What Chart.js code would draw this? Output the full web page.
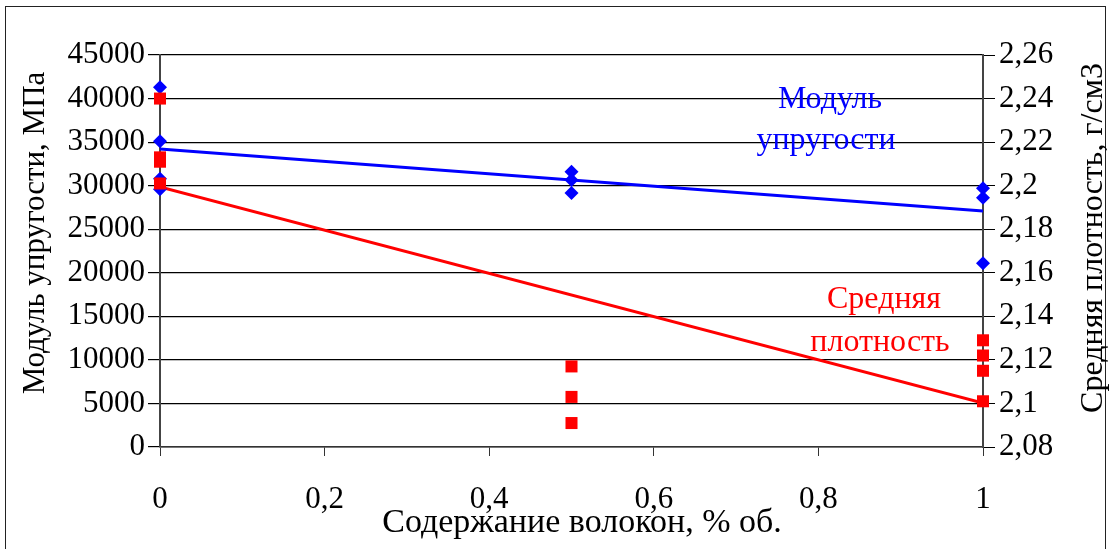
<!DOCTYPE html>
<html>
<head>
<meta charset="utf-8">
<script src="https://cdn.jsdelivr.net/npm/chart.js@4.4.1/dist/chart.umd.min.js"></script>
<style>
    html, body { margin: 0; padding: 0; background: #fff; }
    #wrap { position: relative; width: 1113px; height: 549px; }
    #frame {
        position: absolute; left: 5px; top: 6px; width: 1101px; height: 560px;
        border: 1.5px solid #222; box-sizing: border-box;
    }
    canvas { position: absolute; left: 0; top: 0; }
</style>
</head>
<body>
<div id="wrap">
    <div id="frame"></div>
    <canvas id="myChart" width="1113" height="549"></canvas>
</div>
<script>
// fibre content, % vol.
const modulusX = [0, 0, 0, 0, 0.5, 0.5, 0.5, 1, 1, 1];
// modulus of elasticity, MPa
const modulusY = [41300, 35100, 30800, 29600, 31600, 30650, 29150, 29700, 28600, 21100];
// average density, g/cm3
const densityX = [0, 0, 0, 0, 0.5, 0.5, 0.5, 1, 1, 1, 1];
const densityY = [2.240, 2.213, 2.211, 2.201, 2.117, 2.103, 2.091, 2.129, 2.122, 2.115, 2.101];
// trend lines (endpoints)
const trendX = [0, 1];
const modulusTrend = [34200, 27100];
const densityTrend = [2.1994, 2.1002];

const leftTicks = [0, 5000, 10000, 15000, 20000, 25000, 30000, 35000, 40000, 45000];
const rightTicks = [2.08, 2.1, 2.12, 2.14, 2.16, 2.18, 2.2, 2.22, 2.24, 2.26];
const xTicks = [0, 0.2, 0.4, 0.6, 0.8, 1];

const serif = '"Liberation Serif", "Times New Roman", serif';
const comma = v => String(parseFloat(Number(v).toFixed(2))).replace('.', ',');
const pts = (xs, ys) => xs.map((x, i) => ({ x: x, y: ys[i] }));

// axis titles and series labels, placed like in the original sheet
const labelsPlugin = {
    id: 'labels',
    afterDraw(chart) {
        const ctx = chart.ctx;
        ctx.save();
        ctx.textAlign = 'center';
        ctx.textBaseline = 'middle';
        ctx.font = '32px ' + serif;
        ctx.fillStyle = '#0000FF';
        ctx.fillText('Модуль', 830, 100);
        ctx.fillText('упругости', 826, 141);
        ctx.fillStyle = '#FF0000';
        ctx.fillText('Средняя', 884, 300);
        ctx.fillText('плотность', 880, 343);

        ctx.fillStyle = '#000';
        ctx.font = '34px ' + serif;
        ctx.fillText('Содержание волокон, % об.', 582, 523);

        ctx.font = '31px ' + serif;
        ctx.translate(36, 233);
        ctx.rotate(-Math.PI / 2);
        ctx.fillText('Модуль упругости, МПа', 0, 0);
        ctx.setTransform(1, 0, 0, 1, 0, 0);

        ctx.font = '32px ' + serif;
        ctx.translate(1094, 238);
        ctx.rotate(-Math.PI / 2);
        ctx.fillText('Средняя плотность, г/см3', 0, 0);
        ctx.restore();
    }
};

function draw() {
    const ctx = document.getElementById('myChart').getContext('2d');
    const myChart = new Chart(ctx, {
        type: 'scatter',
        data: {
            datasets: [
                {
                    label: 'Средняя плотность',
                    data: pts(densityX, densityY),
                    yAxisID: 'y2',
                    pointStyle: 'rect',
                    pointRadius: 8.5,
                    backgroundColor: '#FF0000',
                    borderColor: '#FF0000',
                    borderWidth: 0,
                    clip: false,
                    order: 1
                },
                {
                    label: 'Модуль упругости',
                    data: pts(modulusX, modulusY),
                    yAxisID: 'y',
                    pointStyle: 'rectRot',
                    pointRadius: 7,
                    backgroundColor: '#0000FF',
                    borderColor: '#0000FF',
                    borderWidth: 0,
                    clip: false,
                    order: 2
                },
                {
                    label: 'trend density',
                    type: 'line',
                    data: pts(trendX, densityTrend),
                    yAxisID: 'y2',
                    borderColor: '#FF0000',
                    borderWidth: 3,
                    pointRadius: 0,
                    fill: false,
                    order: 3
                },
                {
                    label: 'trend modulus',
                    type: 'line',
                    data: pts(trendX, modulusTrend),
                    yAxisID: 'y',
                    borderColor: '#0000FF',
                    borderWidth: 3,
                    pointRadius: 0,
                    fill: false,
                    order: 4
                }
            ]
        },
        options: {
            responsive: false,
            animation: false,
            layout: { padding: { top: 55, left: 0, right: 0, bottom: 0 } },
            plugins: {
                legend: { display: false },
                tooltip: { enabled: false }
            },
            scales: {
                x: {
                    type: 'linear',
                    min: 0,
                    max: 1,
                    afterBuildTicks: s => { s.ticks = xTicks.map(v => ({ value: v })); },
                    afterFit: s => { s.height = 102; },
                    border: { color: '#333', width: 1.5 },
                    grid: { drawOnChartArea: false, drawTicks: true, tickLength: 9, color: '#333' },
                    ticks: {
                        color: '#000',
                        padding: 25,
                        maxRotation: 0,
                        font: { family: serif, size: 31 },
                        callback: v => comma(v)
                    }
                },
                y: {
                    position: 'left',
                    min: 0,
                    max: 45000,
                    afterBuildTicks: s => { s.ticks = leftTicks.map(v => ({ value: v })); },
                    afterFit: s => { s.width = 160; },
                    border: { color: '#444', width: 2 },
                    grid: { color: '#000', lineWidth: 1.2, drawTicks: true, tickLength: 12 },
                    ticks: {
                        color: '#000',
                        padding: 3,
                        font: { family: serif, size: 31 },
                        callback: v => String(v)
                    }
                },
                y2: {
                    position: 'right',
                    min: 2.08,
                    max: 2.26,
                    afterBuildTicks: s => { s.ticks = rightTicks.map(v => ({ value: v })); },
                    afterFit: s => { s.width = 130; },
                    border: { color: '#444', width: 2 },
                    grid: { drawOnChartArea: false, color: '#000', drawTicks: true, tickLength: 12 },
                    ticks: {
                        color: '#000',
                        padding: 4,
                        font: { family: serif, size: 31 },
                        callback: v => comma(v)
                    }
                }
            }
        },
        plugins: [labelsPlugin]
    });
}

document.fonts.load('31px "Liberation Serif"').then(draw, draw);
</script>
</body>
</html>
